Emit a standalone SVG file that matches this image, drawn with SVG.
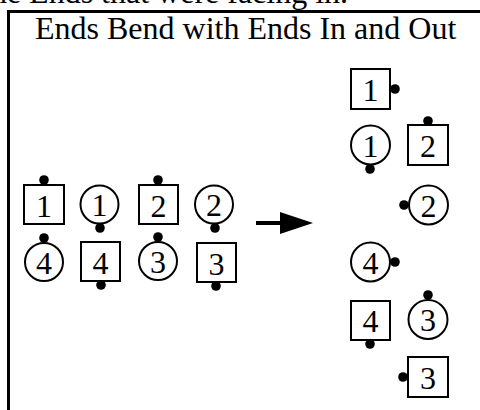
<svg xmlns="http://www.w3.org/2000/svg" width="480" height="410" viewBox="0 0 480 410">
  <style>
    .txt { font-family: "Liberation Serif", "Times New Roman", serif; font-size: 32px; fill: #000; }
    .lbl { font-family: "Liberation Serif", "Times New Roman", serif; font-size: 32px; fill: #000; text-anchor: middle; }
    .box { fill: #fff; stroke: #000; stroke-width: 2; }
    .end { fill: #000; }
    .frame { fill: none; stroke: #000; stroke-width: 3; }
  </style>
  <defs>
    <circle id="dot" r="4.8" class="end"/>
  </defs>

  <rect width="480" height="410" fill="#fff"/>

  <!-- caption line running off the top edge -->
  <text class="txt" x="-18" y="3">the Ends that were facing in.</text>

  <!-- frame, continuing past the right and bottom edges -->
  <path class="frame" d="M8.5,420 V11.5 H490"/>

  <text class="txt" x="35" y="39">Ends Bend with Ends In and Out</text>

  <!-- starting arrangement, ends facing in -->
  <g id="s1-start"><rect class="box" x="24" y="185" width="40" height="39"/><use href="#dot" x="44" y="180"/><text class="lbl" x="44" y="217">1</text></g>
  <g id="c1-start"><circle class="box" cx="99.5" cy="204.5" r="19"/><use href="#dot" x="100" y="228"/><text class="lbl" x="99.5" y="216">1</text></g>
  <g id="s2-start"><rect class="box" x="139" y="185" width="39" height="39"/><use href="#dot" x="158" y="180"/><text class="lbl" x="158.5" y="217">2</text></g>
  <g id="c2-start"><circle class="box" cx="214" cy="204.5" r="19"/><use href="#dot" x="215" y="228"/><text class="lbl" x="214" y="216">2</text></g>
  <g id="c4-start"><circle class="box" cx="44" cy="262" r="19"/><use href="#dot" x="44" y="238"/><text class="lbl" x="44" y="274">4</text></g>
  <g id="s4-start"><rect class="box" x="81" y="242" width="39" height="39"/><use href="#dot" x="101" y="285"/><text class="lbl" x="100.5" y="274">4</text></g>
  <g id="c3-start"><circle class="box" cx="158" cy="261" r="19"/><use href="#dot" x="158" y="237"/><text class="lbl" x="158" y="273">3</text></g>
  <g id="s3-start"><rect class="box" x="197" y="243" width="39" height="39"/><use href="#dot" x="216" y="286"/><text class="lbl" x="216.5" y="275">3</text></g>

  <g id="connectors">
    <line x1="256" y1="223" x2="284" y2="223" stroke="#000" stroke-width="4"/>
    <polygon points="280,212 313,223 280,234" fill="#000"/>
  </g>

  <!-- bent arrangement, ends facing out -->
  <g id="s1-end"><rect class="box" x="351" y="69" width="39" height="40"/><use href="#dot" x="395" y="89"/><text class="lbl" x="370.5" y="101">1</text></g>
  <g id="c1-end"><circle class="box" cx="370.5" cy="145" r="19.5"/><use href="#dot" x="370" y="169"/><text class="lbl" x="370.5" y="157">1</text></g>
  <g id="s2-end"><rect class="box" x="408" y="125" width="40" height="40"/><use href="#dot" x="428" y="121"/><text class="lbl" x="428" y="157">2</text></g>
  <g id="c2-end"><circle class="box" cx="428.5" cy="205" r="19.5"/><use href="#dot" x="404" y="205"/><text class="lbl" x="428.5" y="217">2</text></g>
  <g id="c4-end"><circle class="box" cx="370.5" cy="262" r="19.5"/><use href="#dot" x="395" y="262"/><text class="lbl" x="370.5" y="274">4</text></g>
  <g id="s4-end"><rect class="box" x="351" y="301" width="39" height="39"/><use href="#dot" x="370" y="344"/><text class="lbl" x="370.5" y="332">4</text></g>
  <g id="c3-end"><circle class="box" cx="428" cy="319.5" r="19.5"/><use href="#dot" x="428" y="295"/><text class="lbl" x="428" y="331">3</text></g>
  <g id="s3-end"><rect class="box" x="408" y="357" width="40" height="40"/><use href="#dot" x="403" y="377"/><text class="lbl" x="428" y="389">3</text></g>
</svg>
